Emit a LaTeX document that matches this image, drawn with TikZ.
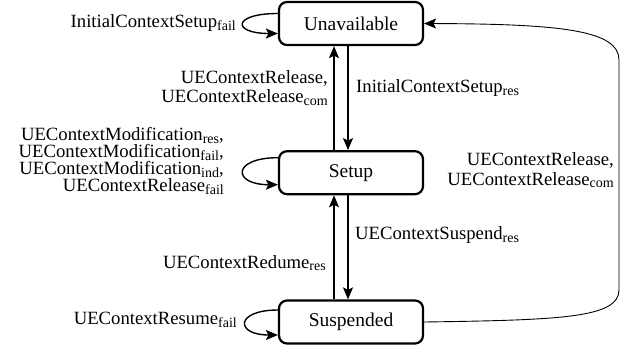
\documentclass[tikz,border=0pt]{standalone}
\usepackage{fontspec}
\setmainfont{Liberation Serif}
\newfontfamily\tmsfont{Liberation Serif}
\usetikzlibrary{arrows.meta}
\newcommand{\sbs}[1]{\raisebox{-2.8pt}{\fontsize{14}{14}\selectfont #1}}
\begin{document}
\begin{tikzpicture}[x=1pt,y=-1pt,
  state/.style={draw,line width=2.2pt,rounded corners=8pt,minimum width=144pt,minimum height=43pt,inner sep=0pt,font=\tmsfont\fontsize{19.5}{19.5}\selectfont},
  lbl/.style={inner sep=0pt,font=\tmsfont\fontsize{18.7}{16.8}\selectfont},
  tr/.style={line width=1.4pt,-{Stealth[length=12pt,width=10pt,inset=2.5pt]}},
  thin/.style={line width=0.9pt,-{Stealth[length=12pt,width=10pt,inset=2.5pt]}}]
\useasboundingbox (0,0) rectangle (639,351);
\node[state] (U) at (351,23.5) {Unavailable};
\node[state] (S) at (351,172.7) {Setup};
\node[state] (P) at (351,322) {Suspended};
% vertical transitions
\draw[tr] ([xshift=-17pt]S.north) -- ([xshift=-17pt]U.south);
\draw[tr] ([xshift=-3pt]U.south) -- ([xshift=-3pt]S.north);
\draw[tr] ([xshift=-17pt]P.north) -- ([xshift=-17pt]S.south);
\draw[tr] ([xshift=-3pt]S.south) -- ([xshift=-3pt]P.north);
% self loops
\draw[tr] ([yshift=10pt]U.west) .. controls +(-46pt,0) and +(-46pt,0) .. ([yshift=-10pt]U.west);
\draw[tr] ([yshift=15pt]S.west) .. controls +(-46pt,0) and +(-46pt,0) .. ([yshift=-12pt]S.west);
\draw[tr] ([yshift=12pt]P.west) .. controls +(-43pt,0) and +(-43pt,0) .. ([yshift=-13pt]P.west);
% long connector
\draw[thin] (P.east) .. controls (560,320) and (619,318) .. (619,290) -- (619,60) .. controls (619,30) and (560,24) .. (U.east);
% labels
\node[lbl,anchor=east] (l1) at (236,23) {InitialContextSetup\sbs{fail}};
\node[lbl,anchor=east,align=right,font=\tmsfont\fontsize{18.7}{19}\selectfont] (l2) at (328,88) {UEContextRelease,\\UEContextRelease\sbs{com}};
\node[lbl,anchor=west] (l3) at (356,88) {InitialContextSetup\sbs{res}};
\node[lbl,anchor=east,align=right] (l4) at (224,161) {UEContextModification\sbs{res},\\UEContextModification\sbs{fail},\\UEContextModification\sbs{ind},\\UEContextRelease\sbs{fail}};
\node[lbl,anchor=west] (l5) at (355,235) {UEContextSuspend\sbs{res}};
\node[lbl,anchor=east] (l6) at (326,263) {UEContextRedume\sbs{res}};
\node[lbl,anchor=east] (l7) at (237,320) {UEContextResume\sbs{fail}};
\node[lbl,anchor=east,align=right,font=\tmsfont\fontsize{18.7}{20}\selectfont] (l8) at (614,170) {UEContextRelease,\\UEContextRelease\sbs{com}};
\end{tikzpicture}
\end{document}
